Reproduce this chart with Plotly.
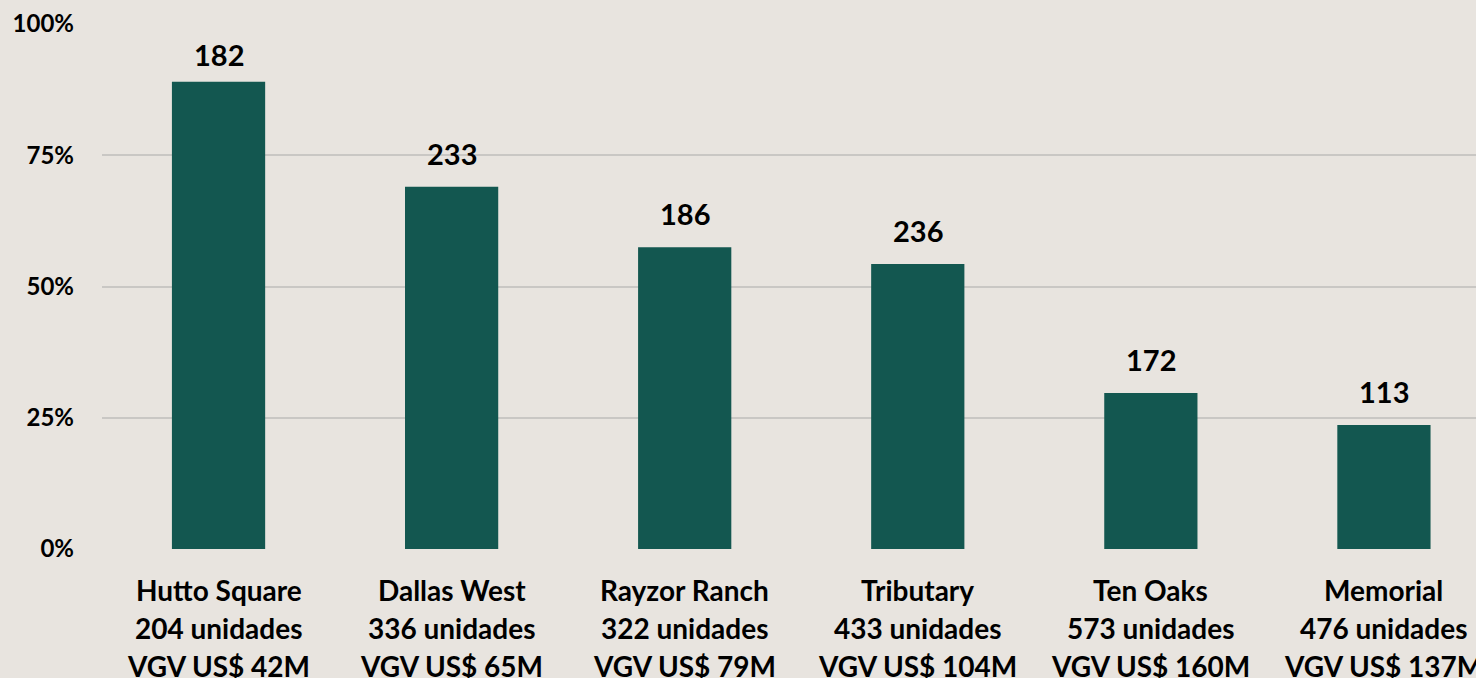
import plotly.graph_objects as go

categories = ["Hutto Square", "Dallas West", "Rayzor Ranch", "Tributary", "Ten Oaks", "Memorial"]
unidades = [204, 336, 322, 433, 573, 476]
vgv = [42, 65, 79, 104, 160, 137]
pct = [0.89, 0.69, 0.575, 0.543, 0.297, 0.236]
counts = [182, 233, 186, 236, 172, 113]
ytick_vals = [0, 0.25, 0.5, 0.75, 1.0]
ytick_text = ["0%", "25%", "50%", "75%", "100%"]

BG = "#E8E4DF"
BAR = "#135750"
FONT = "Lato"

fig = go.Figure()
fig.add_trace(go.Bar(x=categories, y=pct, marker=dict(color=BAR, line=dict(width=0)),
                     width=0.4, hoverinfo="skip"))

ann = []
for c, v, n in zip(categories, pct, counts):
    ann.append(dict(x=c, y=v, xref="x", yref="y", text=f"<b>{n}</b>", showarrow=False,
                    yanchor="bottom", yshift=8 if v > 0.85 else 14,
                    font=dict(family=FONT, size=29, color="#000")))
for c, u, g in zip(categories, unidades, vgv):
    lines = [c, f"{u} unidades", f"VGV US$ {g}M"]
    for i, t in enumerate(lines):
        ann.append(dict(x=c, y=0, xref="x", yref="paper", text=f"<b>{t}</b>", showarrow=False,
                        yanchor="middle", yshift=-41 - 38 * i,
                        font=dict(family=FONT, size=28, color="#000")))

fig.update_layout(
    width=1476, height=678,
    paper_bgcolor=BG, plot_bgcolor=BG,
    margin=dict(l=102, r=0, t=24, b=129),
    showlegend=False,
    bargap=0.6,
    annotations=ann,
    xaxis=dict(range=[-0.5, 5.395], showticklabels=False, showgrid=False, zeroline=False,
               showline=False, fixedrange=True),
    yaxis=dict(range=[0, 1], tickvals=ytick_vals, ticktext=[f"<b>{t}</b>" for t in ytick_text],
               showgrid=True, gridcolor="#C9C7C4", gridwidth=1.5, zeroline=False, showline=False,
               ticks="", ticklabelstandoff=27,
               tickfont=dict(family=FONT, size=24, color="#000"), fixedrange=True),
)

fig.write_html("out.html", config={"displayModeBar": False})
